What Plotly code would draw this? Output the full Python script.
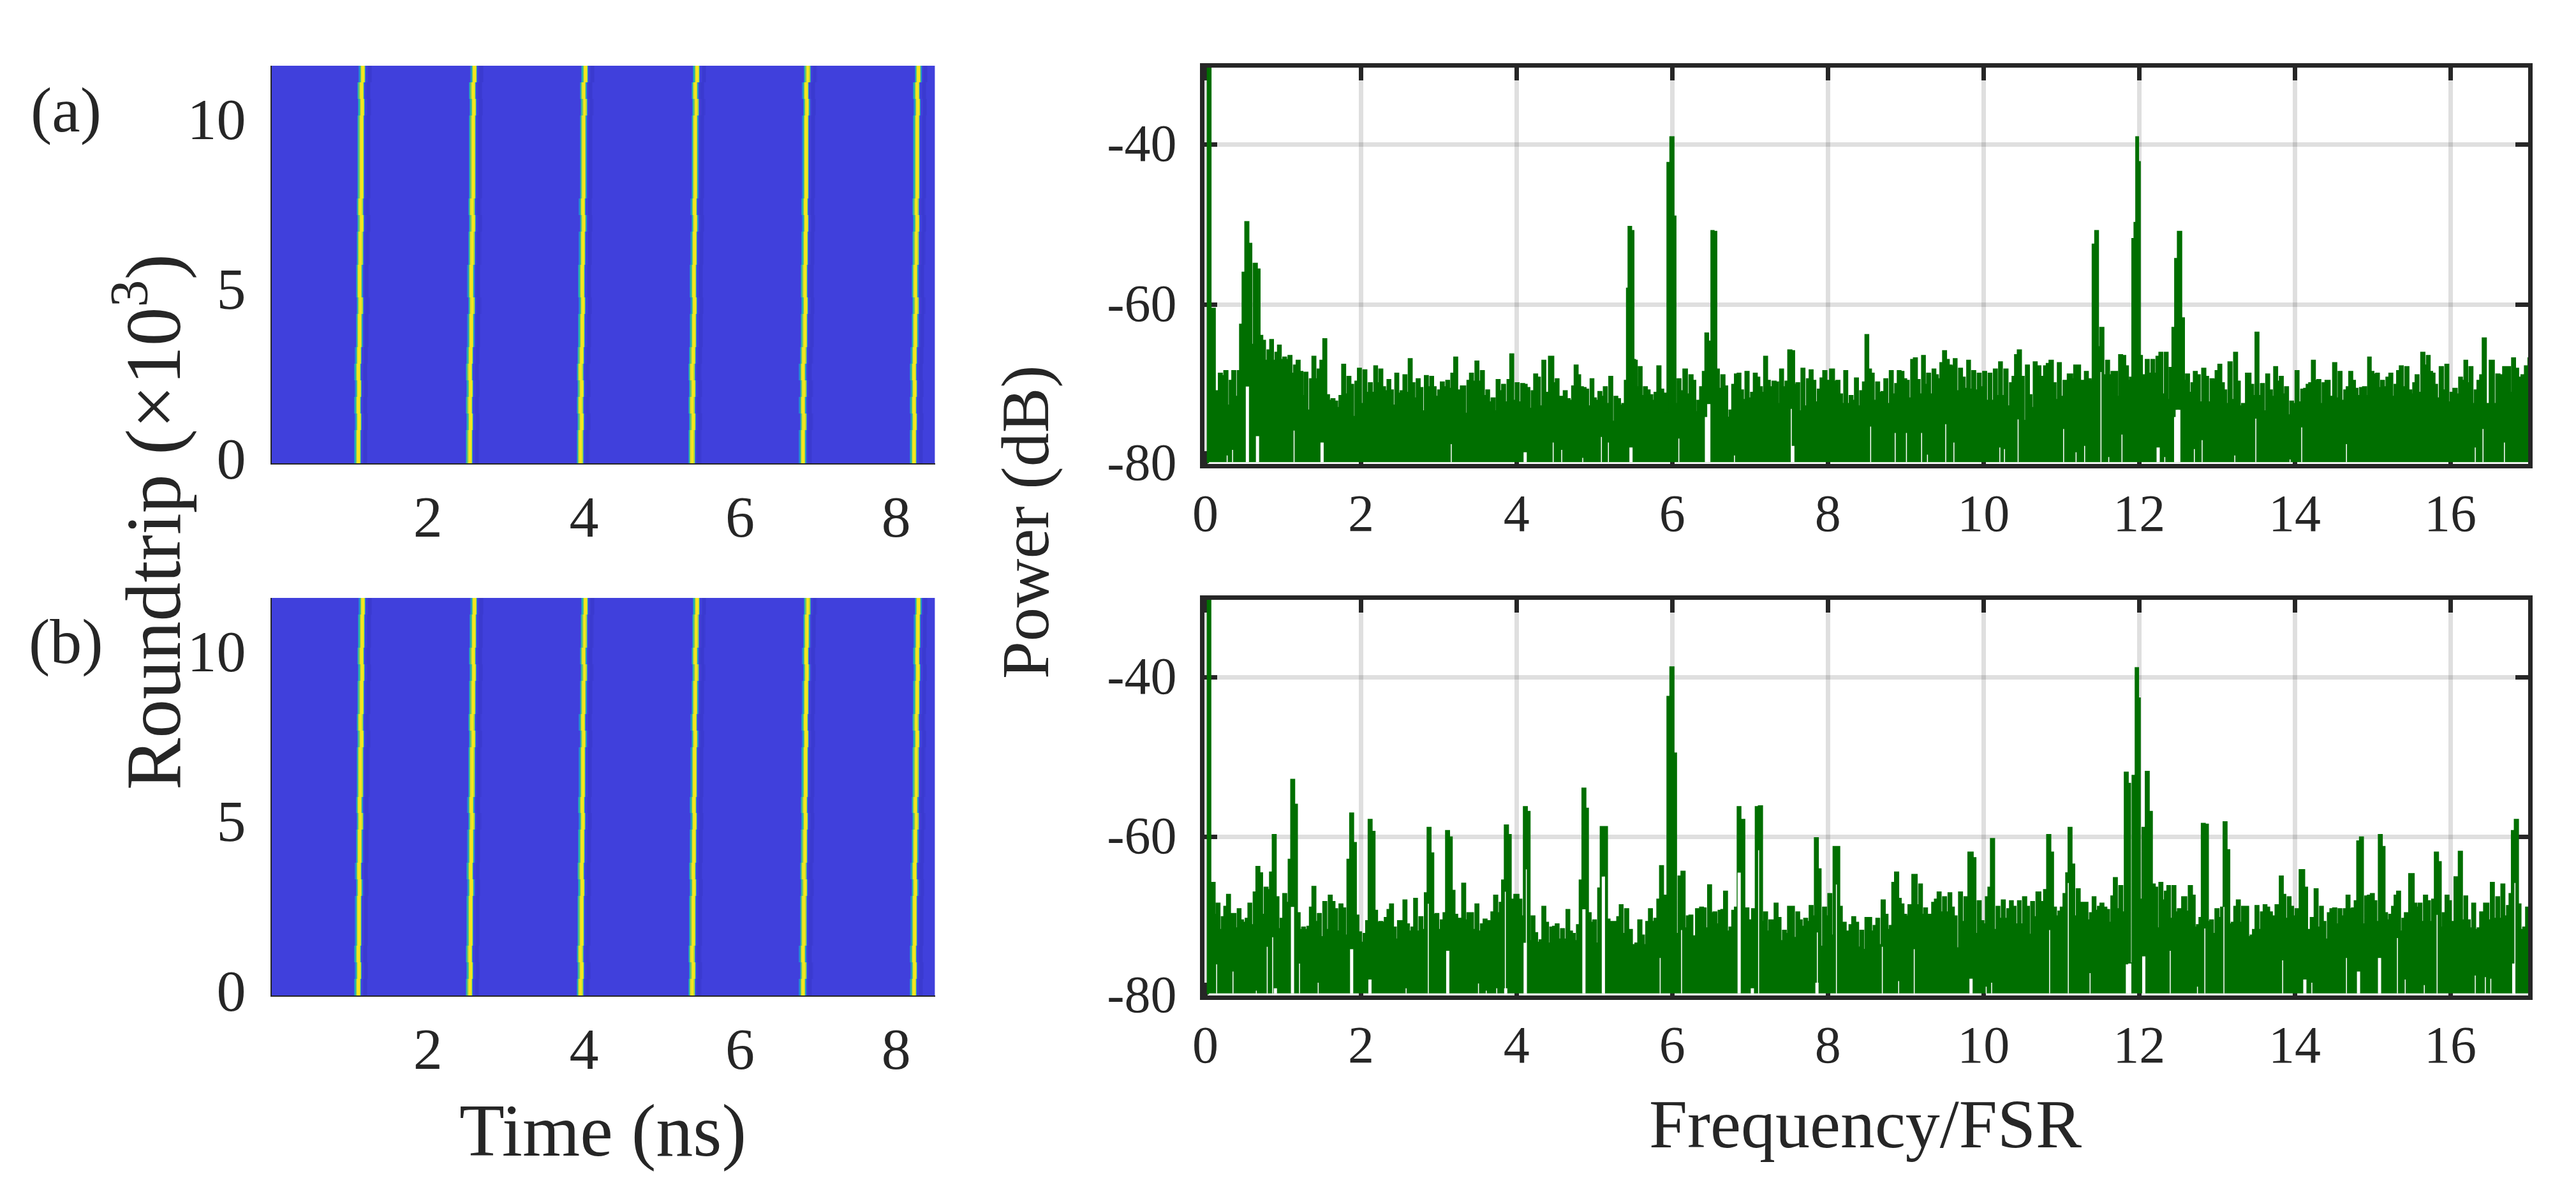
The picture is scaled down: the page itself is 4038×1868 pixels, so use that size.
"""Soliton trains: roundtrip maps (left) and RF spectra (right), panels (a) and (b)."""
import numpy as np
import plotly.graph_objects as go

W, H = 4038, 1868
INK = "#262626"
GREEN = "#006f00"
GRID = "rgba(38,38,38,0.15)"
FONT = "Liberation Serif"
FLOOR = -79.65

# --- spectrum (a): envelope, frequency/FSR and dB
freq_a = [0.04,0.09,0.11,0.13,0.155,0.195,0.225,0.265,0.30,0.33,0.365,0.40,0.435,0.46,0.50,0.53,0.573,0.605,0.64,0.68,0.71,0.75,0.78,0.82,0.85,0.885,0.92,0.95,0.985,1.02,1.05,1.09,1.12,1.16,1.19,1.23,1.26,1.29,1.33,1.36,1.395,1.43,1.46,1.50,1.535,1.57,1.605,1.64,1.675,1.71,1.74,1.78,1.81,1.845,1.88,1.915,1.945,1.98,2.015,2.05,2.085,2.12,2.155,2.19,2.22,2.255,2.29,2.325,2.36,2.39,2.425,2.46,2.495,2.53,2.565,2.6,2.63,2.67,2.70,2.735,2.77,2.805,2.84,2.875,2.91,2.94,2.975,3.01,3.045,3.08,3.115,3.145,3.18,3.22,3.25,3.32,3.355,3.385,3.42,3.455,3.49,3.525,3.56,3.595,3.63,3.66,3.70,3.73,3.76,3.80,3.83,3.87,3.90,3.94,3.97,4.01,4.04,4.08,4.11,4.145,4.18,4.21,4.245,4.28,4.315,4.35,4.385,4.45,4.49,4.52,4.555,4.59,4.625,4.66,4.70,4.73,4.765,4.80,4.83,4.87,4.90,4.935,4.97,5.0,5.035,5.07,5.105,5.14,5.175,5.21,5.245,5.275,5.31,5.345,5.375,
          5.41,5.43,5.45,5.49,5.51,5.53,5.555,5.59,5.62,5.655,5.69,5.725,5.76,5.79,5.83,5.865,5.90,5.925,5.955,6.0,6.03,6.05,6.09,6.12,6.17,6.205,6.24,6.28,6.31,6.34,6.38,6.41,6.445,6.475,6.5,6.51,6.55,6.58,6.615,6.65,6.69,6.72,6.755,6.79,6.825,6.86,6.89,6.925,6.96,7.0,7.03,7.07,7.10,7.135,7.165,7.2,7.235,7.27,7.31,7.345,7.37,7.405,7.44,7.475,7.51,7.55,7.58,7.615,7.645,7.68,7.715,7.75,7.785,7.82,7.855,7.89,7.925,7.96,8.0,8.06,8.095,8.13,8.165,8.195,8.23,8.265,8.30,8.33,8.37,8.40,8.435,8.47,8.50,8.535,8.57,8.605,8.64,8.675,8.71,8.745,8.78,8.815,8.85,8.885,8.915,8.95,8.99,9.02,9.055,9.09,9.125,9.16,9.195,9.23,9.26,9.295,9.33,9.365,9.395,9.43,9.465,9.50,9.535,9.57,9.605,9.635,9.67,9.705,9.74,9.775,9.81,9.84,9.875,9.91,9.945,9.98,10.015,10.05,10.085,10.115,10.155,10.185,10.22,10.25,10.29,10.325,10.36,10.39,10.425,10.46,10.50,10.53,10.565,10.60,10.63,10.665,10.70,
          10.76,10.8,10.83,10.87,10.91,10.94,10.975,11.01,11.05,11.12,11.155,11.18,11.22,11.26,11.29,11.32,11.36,11.39,11.42,11.455,11.485,11.52,11.56,11.595,11.63,11.665,11.70,11.73,11.76,11.80,11.84,11.87,11.90,11.93,11.955,11.975,11.995,12.02,12.05,12.07,12.105,12.14,12.18,12.205,12.245,12.28,12.315,12.35,12.38,12.41,12.45,12.48,12.52,12.56,12.59,12.62,12.66,12.69,12.72,12.76,12.795,12.83,12.87,12.90,12.94,12.97,13.0,13.04,13.07,13.105,13.13,13.17,13.205,13.24,13.275,13.31,13.34,13.41,13.45,13.48,13.515,13.55,13.585,13.62,13.65,13.69,13.72,13.755,13.79,13.83,13.86,13.895,13.93,13.96,13.995,14.03,14.065,14.105,14.14,14.17,14.205,14.24,14.275,14.31,14.345,14.375,14.42,14.475,14.515,14.55,14.58,14.62,14.655,14.685,14.72,14.755,14.79,14.82,14.86,14.90,14.93,14.96,14.99,15.03,15.065,15.095,15.13,15.16,15.2,15.235,15.27,15.30,15.335,15.37,15.405,15.44,15.48,15.51,15.54,15.57,15.61,15.645,15.685,15.715,15.75,15.78,15.81,15.845,15.885,15.92,15.955,15.99,16.02,16.06,16.10,16.13,16.165,16.2,16.23,16.265,16.30,16.33,16.37,16.40,16.435,16.475,16.54,16.575,16.61,16.65,16.71,16.75,16.78,16.81,16.85,16.89,16.94,16.98,17.03]
power_a = [-30.1,-60.5,-60.5,-71,-70.8,-68.6,-68.9,-68.3,-72.6,-69.5,-68.3,-71.5,-68.3,-62.5,-56,-49.7,-52.4,-65,-54.9,-55.6,-63.9,-64.5,-67,-65.7,-64.4,-67,-66,-65.1,-66.9,-66.6,-66.9,-66.4,-68.6,-67.6,-67,-68.4,-71.4,-68.5,-73.2,-69.3,-66.5,-69.3,-68.1,-67,-64.3,-71.3,-72,-71.8,-72.1,-72.9,-71.4,-67.5,-71.2,-69,-70,-74,-69.6,-68,-72.4,-68.2,-71,-69.8,-71,-67.7,-69.8,-68.1,-70.3,-70.8,-69.4,-70.7,-72.6,-68.6,-71.1,-70.8,-68.8,-71,-66.8,-69.8,-71.7,-69.3,-70.4,-73.3,-68.9,-70.3,-69,-70.3,-71.5,-70.7,-69.7,-70.3,-69.5,-70.5,-68.6,-66.6,-70.7,-70.2,-73.6,-69.5,-68.6,-69.6,-67.1,-69.6,-68.3,-71.4,-70.7,-72.2,-71.7,-73.3,-69.4,-70.8,-70,-72.2,-69.4,-66.2,-72,-69.8,-72.2,-69.9,-70,-70.4,-73,-70.8,-68.7,-69.1,-72.7,-67,-71,-66.5,-69.8,-69.3,-71.5,-71.5,-70.8,-71.8,-72,-70.2,-67.6,-68.8,-70.3,-70.4,-70.6,-72.7,-69.3,-71.7,-72,-70.9,-71.5,-70.3,-72.4,-69,-74.6,-71.5,-71.8,-72.6,-72.4,
           -69.5,-58,-50.3,-50.8,-66.9,-67,-70.3,-67.8,-71.4,-70.3,-70.7,-71.3,-72,-71,-67.7,-70.6,-71.1,-73.3,-42.3,-39.1,-49,-72.4,-69.3,-70.8,-68.1,-71.2,-68.8,-69.5,-73.4,-72,-70.3,-68.4,-63.6,-64.6,-66.4,-50.8,-50.9,-68.1,-70.5,-68.8,-70.2,-74.1,-73.2,-70,-68.7,-68.6,-70.7,-71.9,-68.4,-71.7,-71,-68.6,-69.1,-70.3,-71,-66.5,-69.5,-70.3,-69.6,-69.7,-72.4,-68.1,-70.3,-69.6,-65.7,-65.8,-70,-69.8,-73.3,-68,-72.7,-69.3,-68.2,-69.5,-72.2,-70.6,-69.2,-68.3,-69.5,-68.1,-69.6,-69.5,-71.2,-72.4,-68.3,-72.4,-71.4,-72,-69.2,-72.7,-70.8,-69.7,-63.8,-68.1,-68.6,-72,-69.7,-71,-70.9,-69.3,-72.4,-68.3,-71.2,-69.9,-68.3,-68.4,-69.3,-69.5,-71.7,-66.9,-66.7,-69.4,-71.2,-66.4,-70,-68.6,-71.2,-68.1,-68.8,-69.3,-67.3,-65.8,-66.9,-67.6,-67.7,-66.8,-70.8,-68,-69.1,-70.5,-67,-70.6,-68.3,-70.7,-68.6,-70.3,-68.4,-72,-68.6,-72,-68.1,-71.4,-67.2,-71.4,-68.1,-72.7,-69.8,-69,-66.3,-65.7,-69,-74.5,-67.6,-71.3,-72.9,-67.2,-67.7,
           -69,-67.7,-67.4,-67,-69.8,-71.9,-67.3,-71.5,-69.5,-68.7,-69.3,-67.6,-67.6,-69.5,-69.5,-68.4,-69.3,-69.5,-52.5,-50.8,-65.3,-62.9,-68.8,-67,-68.8,-68.4,-68.4,-71.5,-66.3,-66.4,-67.7,-69.5,-69.1,-51.8,-49.8,-39.1,-42.2,-66.4,-69.6,-68.8,-66.9,-68.6,-66.9,-68.6,-66.5,-66,-71.2,-66,-71.9,-67.9,-62.9,-54.3,-50.9,-61.7,-69.5,-68.7,-71,-69.8,-68.4,-68.8,-72.2,-68,-69,-72.2,-69.3,-69.4,-68.3,-67.5,-69.8,-70.7,-72.4,-67.2,-71.9,-66,-69.6,-72.7,-72.4,-68.6,-70,-71.4,-63.5,-71.4,-69.9,-73.3,-68.7,-70.7,-71.5,-67.8,-69.6,-69,-71.2,-70.3,-73.8,-72.1,-72.4,-68.3,-72.2,-70.6,-70.5,-70,-69.8,-67,-69.5,-69.4,-72.4,-69.8,-69.5,-71.5,-67.3,-71.7,-68.4,-72,-70.7,-70.3,-68.4,-69.5,-70.5,-71.4,-70.4,-70.3,-71.4,-66.6,-68.4,-68.7,-68.6,-70.4,-69.5,-70.3,-69.1,-68.6,-71.5,-70,-68.3,-67.7,-70.3,-67.8,-70.7,-71.2,-69.8,-68.8,-71,-66,-67.6,-66.4,-68.4,-68.6,-70,-71.7,-67.8,-70.7,-67.5,-72.2,-71,-70.5,-71.2,-69.1,-69.5,-67,-69.8,-67.8,-72.4,-70.7,-69.5,-68.8,-64.2,-72.4,-67,-72.4,-68.7,-68.8,-67.8,-67.8,-71,-66.7,-68,-69.1,-68.8,-67.7,-66.7]

# white gaps between the traces down at the floor: (frequency/FSR, top of gap in dB)
gap_wide_f_a = [0.54,0.67,1.50,4.11,5.47,6.47,6.44,7.55,12.245,12.47,12.49,12.51]
gap_wide_p_a = [-70.2,-76.4,-77.2,-78.4,-77.8,-72.4,-74,-77.6,-77.8,-74,-73.1,-73.1]
gap_thin_f_a = [0.28,0.35,1.14,3.16,4.47,4.58,5.09,5.18,4.85,6.085,6.80,7.53,8.55,8.865,9.01,9.205,9.515,9.28,9.62,10.21,10.27,10.445,11.03,11.19,11.30,11.51,11.61,11.78,12.33,12.81,12.71,13.23,13.5,13.94,14.09,14.665,16.32,16.42,16.695]
gap_thin_p_a = [-78.8,-78.1,-75.7,-77.4,-77.2,-78.1,-76.5,-77.2,-79.1,-76.7,-78.8,-73,-75.2,-76,-76,-76,-74.9,-78.7,-77.2,-77.8,-78,-74.3,-75.5,-78.4,-77.6,-68.4,-79,-76.2,-79,-76.9,-78,-78.8,-74.2,-79.3,-75.3,-77.4,-77.8,-75.5,-77.2]

# --- spectrum (b)
freq_b = [0.04,0.085,0.105,0.13,0.165,0.195,0.23,0.26,0.30,0.33,0.37,0.40,0.435,0.465,0.50,0.54,0.57,0.605,0.64,0.675,0.71,0.745,0.78,0.815,0.85,0.885,0.92,0.955,0.985,1.02,1.055,1.09,1.12,1.16,1.19,1.23,1.26,1.295,1.33,1.36,1.395,1.43,1.465,1.50,1.535,1.57,1.605,1.64,1.675,1.71,1.74,1.78,1.81,1.845,1.88,1.915,1.95,1.98,2.02,2.05,2.085,2.115,2.155,2.19,2.22,2.255,2.29,2.325,2.36,2.39,2.43,2.46,2.495,2.53,2.565,2.60,2.63,2.67,2.70,2.735,2.77,2.805,2.84,2.875,2.91,2.945,2.975,3.01,3.045,3.08,3.11,3.15,3.18,3.22,3.25,3.285,3.32,3.355,3.385,3.42,3.455,3.49,3.525,3.56,3.595,3.63,3.66,3.695,3.73,3.77,3.80,3.83,3.87,3.905,3.94,4.005,4.04,4.08,4.11,4.15,4.18,4.21,4.245,4.28,4.315,4.35,4.385,4.42,4.45,4.49,4.52,4.555,4.59,4.625,4.66,4.69,4.73,4.76,4.795,4.83,4.865,4.90,4.93,4.97,5.0,5.035,5.065,5.10,5.145,5.175,5.21,5.245,5.28,5.31,5.345,5.375,
          5.415,5.45,5.51,5.545,5.585,5.62,5.65,5.685,5.72,5.755,5.79,5.83,5.86,5.90,5.925,5.955,6.0,6.03,6.065,6.10,6.14,6.175,6.205,6.24,6.275,6.34,6.38,6.41,6.445,6.48,6.515,6.55,6.58,6.615,6.65,6.685,6.72,6.755,6.79,6.825,6.86,6.89,6.96,6.995,7.06,7.09,7.14,7.165,7.2,7.235,7.265,7.30,7.335,7.37,7.41,7.44,7.475,7.505,7.545,7.58,7.615,7.645,7.68,7.715,7.75,7.785,7.82,7.85,7.89,7.92,7.96,7.99,8.025,8.06,8.09,8.13,8.16,8.195,8.26,8.30,8.33,8.37,8.405,8.435,8.47,8.50,8.54,8.57,8.61,8.64,8.675,8.71,8.75,8.78,8.815,8.845,8.885,8.92,8.95,8.99,9.02,9.055,9.12,9.16,9.19,9.225,9.255,9.29,9.325,9.36,9.395,9.43,9.465,9.50,9.535,9.57,9.60,9.635,9.67,9.705,9.74,9.775,9.84,9.88,9.91,9.945,9.98,10.015,10.05,10.08,10.115,10.155,10.185,10.22,10.255,10.29,10.325,10.36,10.39,10.43,10.46,10.49,10.53,10.565,10.60,10.63,10.665,10.70,
          10.76,10.8,10.84,10.875,10.91,10.95,10.98,11.01,11.05,11.08,11.11,11.15,11.18,11.22,11.25,11.32,11.35,11.39,11.42,11.455,11.49,11.52,11.56,11.595,11.63,11.66,11.695,11.73,11.765,11.80,11.835,11.87,11.895,11.94,11.975,11.995,12.02,12.07,12.105,12.14,12.185,12.215,12.245,12.28,12.315,12.35,12.38,12.41,12.45,12.48,12.52,12.59,12.62,12.66,12.695,12.73,12.76,12.795,12.82,12.865,12.90,12.93,12.965,13.0,13.04,13.07,13.105,13.14,13.175,13.21,13.24,13.275,13.31,13.34,13.38,13.42,13.45,13.48,13.515,13.55,13.585,13.62,13.65,13.69,13.72,13.79,13.83,13.86,13.895,13.93,13.96,13.995,14.03,14.10,14.14,14.175,14.24,14.275,14.31,14.345,14.375,14.41,14.445,14.475,14.515,14.55,14.58,14.615,14.65,14.685,14.72,14.755,14.79,14.82,14.86,14.89,14.925,14.96,15.0,15.03,15.065,15.10,15.135,15.17,15.2,15.235,15.27,15.30,15.335,15.37,15.40,15.435,15.51,15.545,15.58,15.61,15.645,15.68,15.72,15.75,15.785,15.82,15.86,15.89,15.92,15.96,15.99,16.02,16.09,16.13,16.165,16.2,16.23,16.265,16.30,16.335,16.37,16.40,16.47,16.505,16.54,16.575,16.61,16.64,16.675,16.71,16.75,16.775,16.81,16.85,16.885,16.915,16.96,16.99,17.03]
power_b = [-30.2,-65.8,-65.8,-69.8,-68.4,-71.7,-70.1,-68.8,-67.3,-69.7,-69.7,-71.5,-69.1,-70.5,-70.8,-70.3,-68.4,-71.1,-67,-63.8,-64.6,-69.8,-66.4,-66.7,-64.5,-59.8,-67.6,-71.6,-70.3,-67.2,-68.3,-62.9,-52.9,-56,-69.6,-71.7,-71.4,-71.7,-71.3,-68.9,-66.3,-70.7,-69.7,-72.6,-68.2,-71.7,-67.4,-68.2,-69.1,-71.9,-68.5,-69,-72.4,-62.9,-57.1,-60.8,-69.9,-72,-73.3,-72.2,-70.6,-57.9,-59.4,-69.3,-70.8,-70.7,-70.8,-70.2,-69.2,-68.5,-71.4,-72.9,-70.6,-70.6,-68,-71,-71.9,-71.4,-67.8,-71.9,-70.1,-71.7,-67.1,-58.9,-62.1,-69.8,-69.7,-71.7,-70.5,-69.6,-59.3,-60.1,-66.8,-69.8,-70.3,-70.3,-65.9,-70.5,-69.6,-69.6,-71.7,-68.5,-71.9,-71,-70.4,-70.6,-70.6,-69.5,-67.4,-69.6,-68.3,-65.5,-58.6,-59.8,-67.9,-67.3,-67.9,-70,-56.3,-56.9,-73.1,-70,-72.1,-73.3,-73,-68.8,-70.8,-73.4,-71.4,-71.3,-71,-72.9,-71.6,-72.9,-69.2,-71.9,-72.2,-73.1,-71.1,-65.5,-54,-56.5,-69.6,-70.8,-70.5,-73.4,-66.5,-58.8,-58.8,-70.4,-70.7,-70.7,-70.7,-70.1,-68.6,-72.2,
           -69.1,-71.7,-73.6,-73.4,-70.5,-72.4,-73.6,-70.7,-69.1,-70.7,-70.3,-67.9,-63.7,-67.4,-69.3,-42.5,-38.8,-49.6,-72.2,-65,-64.4,-71.5,-70,-69.9,-72.5,-69.1,-68.9,-69,-71.5,-66.1,-69.6,-69.5,-71,-69.3,-69.2,-66.9,-71.9,-71.4,-69.3,-68.9,-56.3,-57.9,-69,-70.5,-69.1,-56.3,-56.2,-70.7,-69.5,-71.9,-70.5,-70.5,-68.4,-70.2,-73.1,-71.8,-72.2,-68.8,-68.8,-72.7,-69.5,-70.5,-71.3,-70.3,-70.7,-68.7,-70,-60.2,-64.1,-73.8,-68.9,-70,-67.2,-72.4,-61.3,-61.3,-68.8,-70.8,-71.9,-71.1,-70.1,-70.8,-73.9,-71.8,-74.2,-70.2,-70.2,-71.9,-71.2,-70.3,-73.6,-68,-69.8,-71.7,-71.2,-65.8,-64.5,-67.8,-68.5,-69.8,-70,-68.6,-64.8,-68.6,-66,-69.8,-69,-69.8,-69.8,-68.3,-67.9,-67,-69.5,-67.6,-69.5,-67.1,-68.9,-70,-74,-67,-70.7,-67.6,-62,-62.7,-72.2,-68.1,-70.6,-71,-67.6,-66.4,-60.3,-71.7,-68.8,-70.3,-68,-70.3,-69.1,-68.1,-68.8,-71,-68.1,-71,-67.6,-68.8,-72.3,-68.2,-70.1,-67,
           -68.2,-66.7,-59.8,-62,-68.9,-70,-69.4,-68.9,-67.2,-64.6,-58.9,-63.5,-70,-66.6,-68.3,-68.3,-70.5,-69.6,-67.6,-69.3,-68.8,-68.4,-68.9,-69.2,-70.8,-67.5,-65.2,-69.1,-66.2,-69.5,-52,-53.4,-75.9,-52.4,-38.9,-42.7,-67.9,-58.9,-51.9,-56.9,-66,-66.4,-71.5,-65.8,-68,-66.9,-66.2,-70.3,-66.2,-69.5,-69.1,-67.6,-69.4,-66.2,-67.4,-71.4,-71.1,-70.2,-58.4,-58.5,-70.7,-70.5,-72.2,-69.1,-70.2,-68.9,-58.2,-61.7,-71,-70.8,-68.8,-68,-70.8,-68.8,-68.8,-72.6,-72.4,-71.7,-68.7,-71.7,-69.5,-68.6,-68.9,-69.5,-70,-68.6,-65,-67.3,-70.3,-67.6,-68.8,-70,-69.1,-64.2,-66.4,-71.7,-70.2,-66.6,-71.4,-68.8,-70.7,-72.9,-69.6,-69.1,-69,-71,-69.1,-70,-69.1,-67.4,-69.1,-69,-68.1,-60.6,-60.1,-71,-67.5,-67.4,-67.2,-68.1,-70.7,-59.8,-61.3,-69.6,-70.5,-69.8,-68.8,-67.4,-66.9,-71.9,-70.3,-69.6,-64.7,-68.4,-68.9,-68.4,-70.7,-67.4,-68.1,-70.7,-67.9,-62,-63.2,-71.4,-69.6,-67.4,-68.1,-70.7,-65.1,-61.9,-70.5,-67.5,-70.5,-71.5,-68.4,-71.7,-71.5,-69.5,-68.4,-70.5,-65.8,-70.3,-67.6,-70.3,-66,-70,-68.7,-67.2,-59.3,-57.9,-68.5,-71.7,-71.4,-68.9,-70.3]

gap_wide_f_b = [1.12,1.88,2.115,3.115,4.11,4.865,5.115,0.90,3.86,6.86,7.03,7.86,9.84,11.85,11.88,12.06,14.13,14.82,15.09,16.815]
gap_wide_p_b = [-68.8,-74.1,-77.9,-74.3,-73.3,-69.1,-65,-79,-79,-64.5,-79,-78.3,-77.8,-76,-75.9,-75,-77.9,-76.9,-75.2,-75.9]
gap_thin_f_b = [0.145,0.355,0.655,0.795,0.865,1.21,1.45,2.865,3.51,3.61,3.745,3.855,4.125,2.58,5.125,5.845,6.12,7.11,7.865,8.11,8.70,8.91,9.11,10.035,10.105,10.85,11.09,11.37,12.4,12.75,12.845,13.09,13.845,14.22,14.665,15.32,15.42,15.665,15.83,16.32,16.45,16.52,16.83]
gap_thin_p_b = [-76,-76.9,-79.3,-73.8,-72.6,-75.9,-78.3,-68.4,-78.4,-79.3,-79,-66.9,-64.1,-79,-65,-75.2,-71.7,-61.7,-72,-66,-73.8,-78.1,-74.1,-78.8,-78.3,-71.7,-65.8,-77.1,-74.3,-78.8,-71.5,-68.8,-75.5,-78.3,-75.2,-72.7,-77.9,-78.6,-69.8,-77.4,-77.6,-77.8,-65.8]

# --- roundtrip maps: pulse arrival at the first roundtrip (ns) and the drift per row
pulse_times = [1.10, 2.53, 3.95, 5.38, 6.80, 8.22]
drift_a = [0,0,.01,0,.01,0,.01,.02,.02,.03,.02,.02,.03,.03,.04,.03,.04,.04,.04,.04,.04,.05,.04,.06]
drift_b = [0,.01,0,.01,.01,.01,.02,.01,.02,.02,.03,.02,.03,.03,.03,.04,.03,.04,.04,.05,.04,.05,.05,.06]
# intensity across one pulse, one sample per 0.01 ns, with the weak dip that trails it
pulse_shape = [.3,.5,.7,.95,1,1,1,.85,.4,.12,.12,.08,.05,.05,.05,.05,.08]
BACKGROUND = 0.12
T_STEP = 0.01
T_MAX = 8.5
ROUNDTRIP_MAX = 11.7
MAP_SCALE = [[0, "#3a3ad0"], [0.12, "#4444e4"], [0.3, "#1f8fd2"], [0.5, "#27b8a2"], [0.75, "#93c94f"], [1, "#f6e61f"]]

time_ticks = [2, 4, 6, 8]
roundtrip_ticks = [0, 5, 10]
freq_ticks = [0, 2, 4, 6, 8, 10, 12, 14, 16]
power_labels = ["-80", "-60", "-40"]


def pulse_map(drift):
    times = np.arange(0, T_MAX, T_STEP)
    z = np.full((len(drift), len(times)), BACKGROUND)
    for row, shift in enumerate(drift):
        for t0 in pulse_times:
            start = int(round((t0 + shift) / T_STEP)) - 4
            z[row, start:start + len(pulse_shape)] = pulse_shape
    rows = (np.arange(len(drift)) + 0.5) * ROUNDTRIP_MAX / len(drift)
    return times, rows, z


def gaps(freq, top):
    x, y = [], []
    for f, p in zip(freq, top):
        x += [f, f, None]
        y += [FLOOR, p, None]
    return x, y


def add_spectrum(fig, freq, power, wide_f, wide_p, thin_f, thin_p, xa, ya):
    fig.add_trace(go.Scatter(
        x=[0.025] + freq + [17.03], y=[FLOOR] + power + [FLOOR], mode="lines", fill="toself",
        fillcolor=GREEN, line=dict(color=GREEN, width=3.5, shape="hvh"), cliponaxis=False,
        xaxis=xa, yaxis=ya, showlegend=False,
    ))
    for f, p, width in ((wide_f, wide_p, 5), (thin_f, thin_p, 1.5)):
        x, y = gaps(f, p)
        fig.add_trace(go.Scatter(x=x, y=y, mode="lines", line=dict(color="white", width=width),
                                 xaxis=xa, yaxis=ya, showlegend=False))


fig = go.Figure()
for drift, xa, ya in ((drift_a, "x", "y"), (drift_b, "x3", "y3")):
    t, r, z = pulse_map(drift)
    fig.add_trace(go.Heatmap(x=t, y=r, z=z, zmin=0.05, zmax=1, colorscale=MAP_SCALE,
                             showscale=False, xaxis=xa, yaxis=ya))
add_spectrum(fig, freq_a, power_a, gap_wide_f_a, gap_wide_p_a, gap_thin_f_a, gap_thin_p_a, "x2", "y2")
add_spectrum(fig, freq_b, power_b, gap_wide_f_b, gap_wide_p_b, gap_thin_f_b, gap_thin_p_b, "x4", "y4")


def px_x(a, b):
    return [a / W, b / W]


def px_y(top, bottom):
    return [1 - bottom / H, 1 - top / H]


def map_axes(top, bottom):
    x = dict(domain=px_x(426, 1466), range=[0, T_MAX], tickmode="array", tickvals=time_ticks,
             showgrid=False, zeroline=False, showline=True, linecolor=INK, linewidth=2,
             ticks="", ticklabelstandoff=3, tickfont=dict(size=92))
    y = dict(domain=px_y(top, bottom), range=[0, ROUNDTRIP_MAX], tickmode="array", tickvals=roundtrip_ticks,
             showgrid=False, zeroline=False, showline=True, linecolor=INK, linewidth=2,
             ticks="", ticklabelstandoff=20, ticklabelshift=-8, tickfont=dict(size=92))
    return x, y


def spec_axes(top, bottom, y_range):
    common = dict(showgrid=True, gridcolor=GRID, gridwidth=7, zeroline=False, showline=True,
                  linecolor=INK, linewidth=7, mirror="ticks", ticks="inside", ticklen=20, tickwidth=7,
                  tickcolor=INK, layer="below traces", tickfont=dict(size=82), tickmode="array")
    x = dict(domain=px_x(1888, 3963), range=[-0.012, 17.0], tickvals=freq_ticks,
             ticklabelstandoff=0, **common)
    # the lowest label sits on the bottom edge of the frame, a little above true -80
    y = dict(domain=px_y(top, bottom), range=y_range, tickvals=[y_range[0], -60, -40],
             ticktext=power_labels, ticklabelstandoff=20, ticklabelshift=-3, **common)
    return x, y


x1, y1 = map_axes(103, 726)
x3, y3 = map_axes(937, 1560)
x2, y2 = spec_axes(106, 726.5, [-79.82, -30.4])
x4, y4 = spec_axes(940, 1560, [-79.9, -30.32])
x1["anchor"], x2["anchor"], x3["anchor"], x4["anchor"] = "y", "y2", "y3", "y4"
y2["anchor"], y3["anchor"], y4["anchor"] = "x2", "x3", "x4"

labels = [
    ("(a)", 103, 172, 100, 0),
    ("(b)", 103, 1006, 100, 0),
    ("Roundtrip (×10<sup>3</sup>)", 232, 818, 122, -90),
    ("Power (dB)", 1607, 818, 106, -90),
    ("Time (ns)", 945, 1772, 116, 0),
    ("Frequency/FSR", 2924, 1761, 108, 0),
]
fig.update_layout(
    template="none",
    width=W, height=H, autosize=False, margin=dict(l=0, r=0, t=0, b=0),
    paper_bgcolor="white", plot_bgcolor="white",
    font=dict(family=FONT, color=INK), showlegend=False,
    xaxis=x1, yaxis=y1, xaxis2=x2, yaxis2=y2, xaxis3=x3, yaxis3=y3, xaxis4=x4, yaxis4=y4,
    annotations=[
        dict(text=s, x=px / W, y=1 - py / H, xref="paper", yref="paper", xanchor="center", yanchor="middle",
             showarrow=False, font=dict(size=size), textangle=angle)
        for s, px, py, size, angle in labels
    ],
)

fig.write_html("out.html", config=dict(displayModeBar=False), post_script="document.body.style.margin='0';")
